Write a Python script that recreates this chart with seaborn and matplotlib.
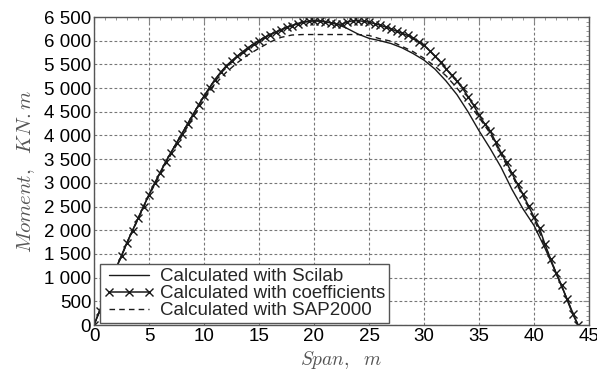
#momento fletor ao longo do vão: Scilab x coeficientes x SAP2000
import numpy as np
import matplotlib
matplotlib.use("Agg")
import matplotlib.pyplot as plt
import matplotlib.ticker as mticker
import seaborn as sns

# vão (m) e momentos (KN.m)
vao_coef = np.arange(0, 44.5, 0.5)
momento_coef = [
    0, 290, 580, 890, 1200, 1450, 1740, 1990, 2250, 2500,
    2750, 2990, 3210, 3440, 3640, 3840, 4040, 4240, 4440, 4640,
    4830, 5010, 5180, 5330, 5460, 5570, 5670, 5760, 5850, 5930,
    6000, 6070, 6130, 6180, 6230, 6280, 6320, 6360, 6390, 6410,
    6420, 6420, 6400, 6380, 6350, 6350, 6390, 6420, 6420, 6410,
    6390, 6360, 6330, 6290, 6250, 6200, 6160, 6110, 6060, 5980,
    5900, 5790, 5670, 5550, 5410, 5270, 5140, 5000, 4820, 4640,
    4430, 4250, 4100, 3870, 3640, 3430, 3200, 2970, 2760, 2510,
    2280, 2040, 1700, 1400, 1100, 840, 540, 240, 0,
]

vao = np.arange(0, 45, 1)
momento_scilab = [
    0, 580, 1200, 1740, 2250, 2750, 3210, 3640, 4040, 4440,
    4830, 5180, 5460, 5670, 5850, 6000, 6130, 6230, 6320, 6390,
    6420, 6400, 6360, 6260, 6140, 6050, 6000, 5940, 5850, 5730,
    5590, 5400, 5150, 4860, 4500, 4100, 3730, 3330, 2860, 2450,
    2100, 1620, 1100, 550, 0,
]
momento_sap = [
    0, 580, 1190, 1730, 2230, 2730, 3180, 3600, 3990, 4380,
    4760, 5080, 5330, 5530, 5700, 5840, 5970, 6070, 6120, 6130,
    6130, 6130, 6130, 6130, 6130, 6110, 6040, 5990, 5880, 5770,
    5630, 5460, 5260, 5000, 4700, 4380, 4050, 3600, 3160, 2720,
    2240, 1680, 1100, 540, 0,
]

sns.set_style("white")
plt.rcParams["font.family"] = ["Liberation Sans", "DejaVu Sans"]
plt.rcParams["mathtext.fontset"] = "cm"

fig = plt.figure(figsize=(5.97, 3.72), dpi=100)
ax = fig.add_axes([94 / 597, 1 - 325 / 372, 495 / 597, 308 / 372])

cor = "#1a1a1a"

# cada curva desenhada pelo seaborn, estilo ajustado depois na linha criada
n = len(ax.lines)
sns.lineplot(x=vao, y=momento_scilab, ax=ax, sort=False)
l_scilab = ax.lines[n]
l_scilab.set(color=cor, lw=1.0, linestyle="-")

n = len(ax.lines)
sns.lineplot(x=vao_coef, y=momento_coef, ax=ax, sort=False)
l_coef = ax.lines[n]
l_coef.set(color=cor, lw=1.1, linestyle="-", marker="x", markersize=5.5,
           markeredgewidth=1.0, markeredgecolor=cor, markerfacecolor=cor)

n = len(ax.lines)
sns.lineplot(x=vao, y=momento_sap, ax=ax, sort=False)
l_sap = ax.lines[n]
l_sap.set(color=cor, lw=1.0, linestyle=(0, (4, 3)))

ax.set_xlim(0, 45)
ax.set_ylim(0, 6500)
ax.xaxis.set_major_locator(mticker.MultipleLocator(5))
ax.xaxis.set_minor_locator(mticker.MultipleLocator(1))
ax.yaxis.set_major_locator(mticker.MultipleLocator(500))
ax.yaxis.set_minor_locator(mticker.MultipleLocator(100))
ax.yaxis.set_major_formatter(mticker.FuncFormatter(lambda v, p: f"{int(v):,}".replace(",", " ")))

ax.grid(True, which="major", color="#777777", linestyle=(0, (2.5, 2)), lw=0.8)
ax.tick_params(which="both", direction="in", top=True, right=True, labelsize=13.5,
               pad=2, colors="#888888", labelcolor="black")
ax.tick_params(which="major", length=4)
ax.tick_params(which="minor", length=2)
for s in ax.spines.values():
    s.set_color("#555555")
    s.set_linewidth(1.0)

ax.set_xlabel(r"$Span,\ \ m$", fontsize=14, color="#555555", labelpad=3)
ax.set_ylabel(r"$Moment,\ \ KN.m$", fontsize=15, color="#555555", labelpad=5)

leg = ax.legend([l_scilab, l_coef, l_sap],
                ["Calculated with Scilab", "Calculated with coefficients", "Calculated with SAP2000"],
                loc="lower left", bbox_to_anchor=(0.012, 0.006), borderaxespad=0,
                fontsize=13.5, numpoints=3, handlelength=2.7, handletextpad=0.3,
                labelspacing=0.0, borderpad=0.2, fancybox=False, framealpha=1,
                edgecolor="#555555")
leg.get_frame().set_linewidth(1.0)

fig.savefig("out.png", dpi=100)
